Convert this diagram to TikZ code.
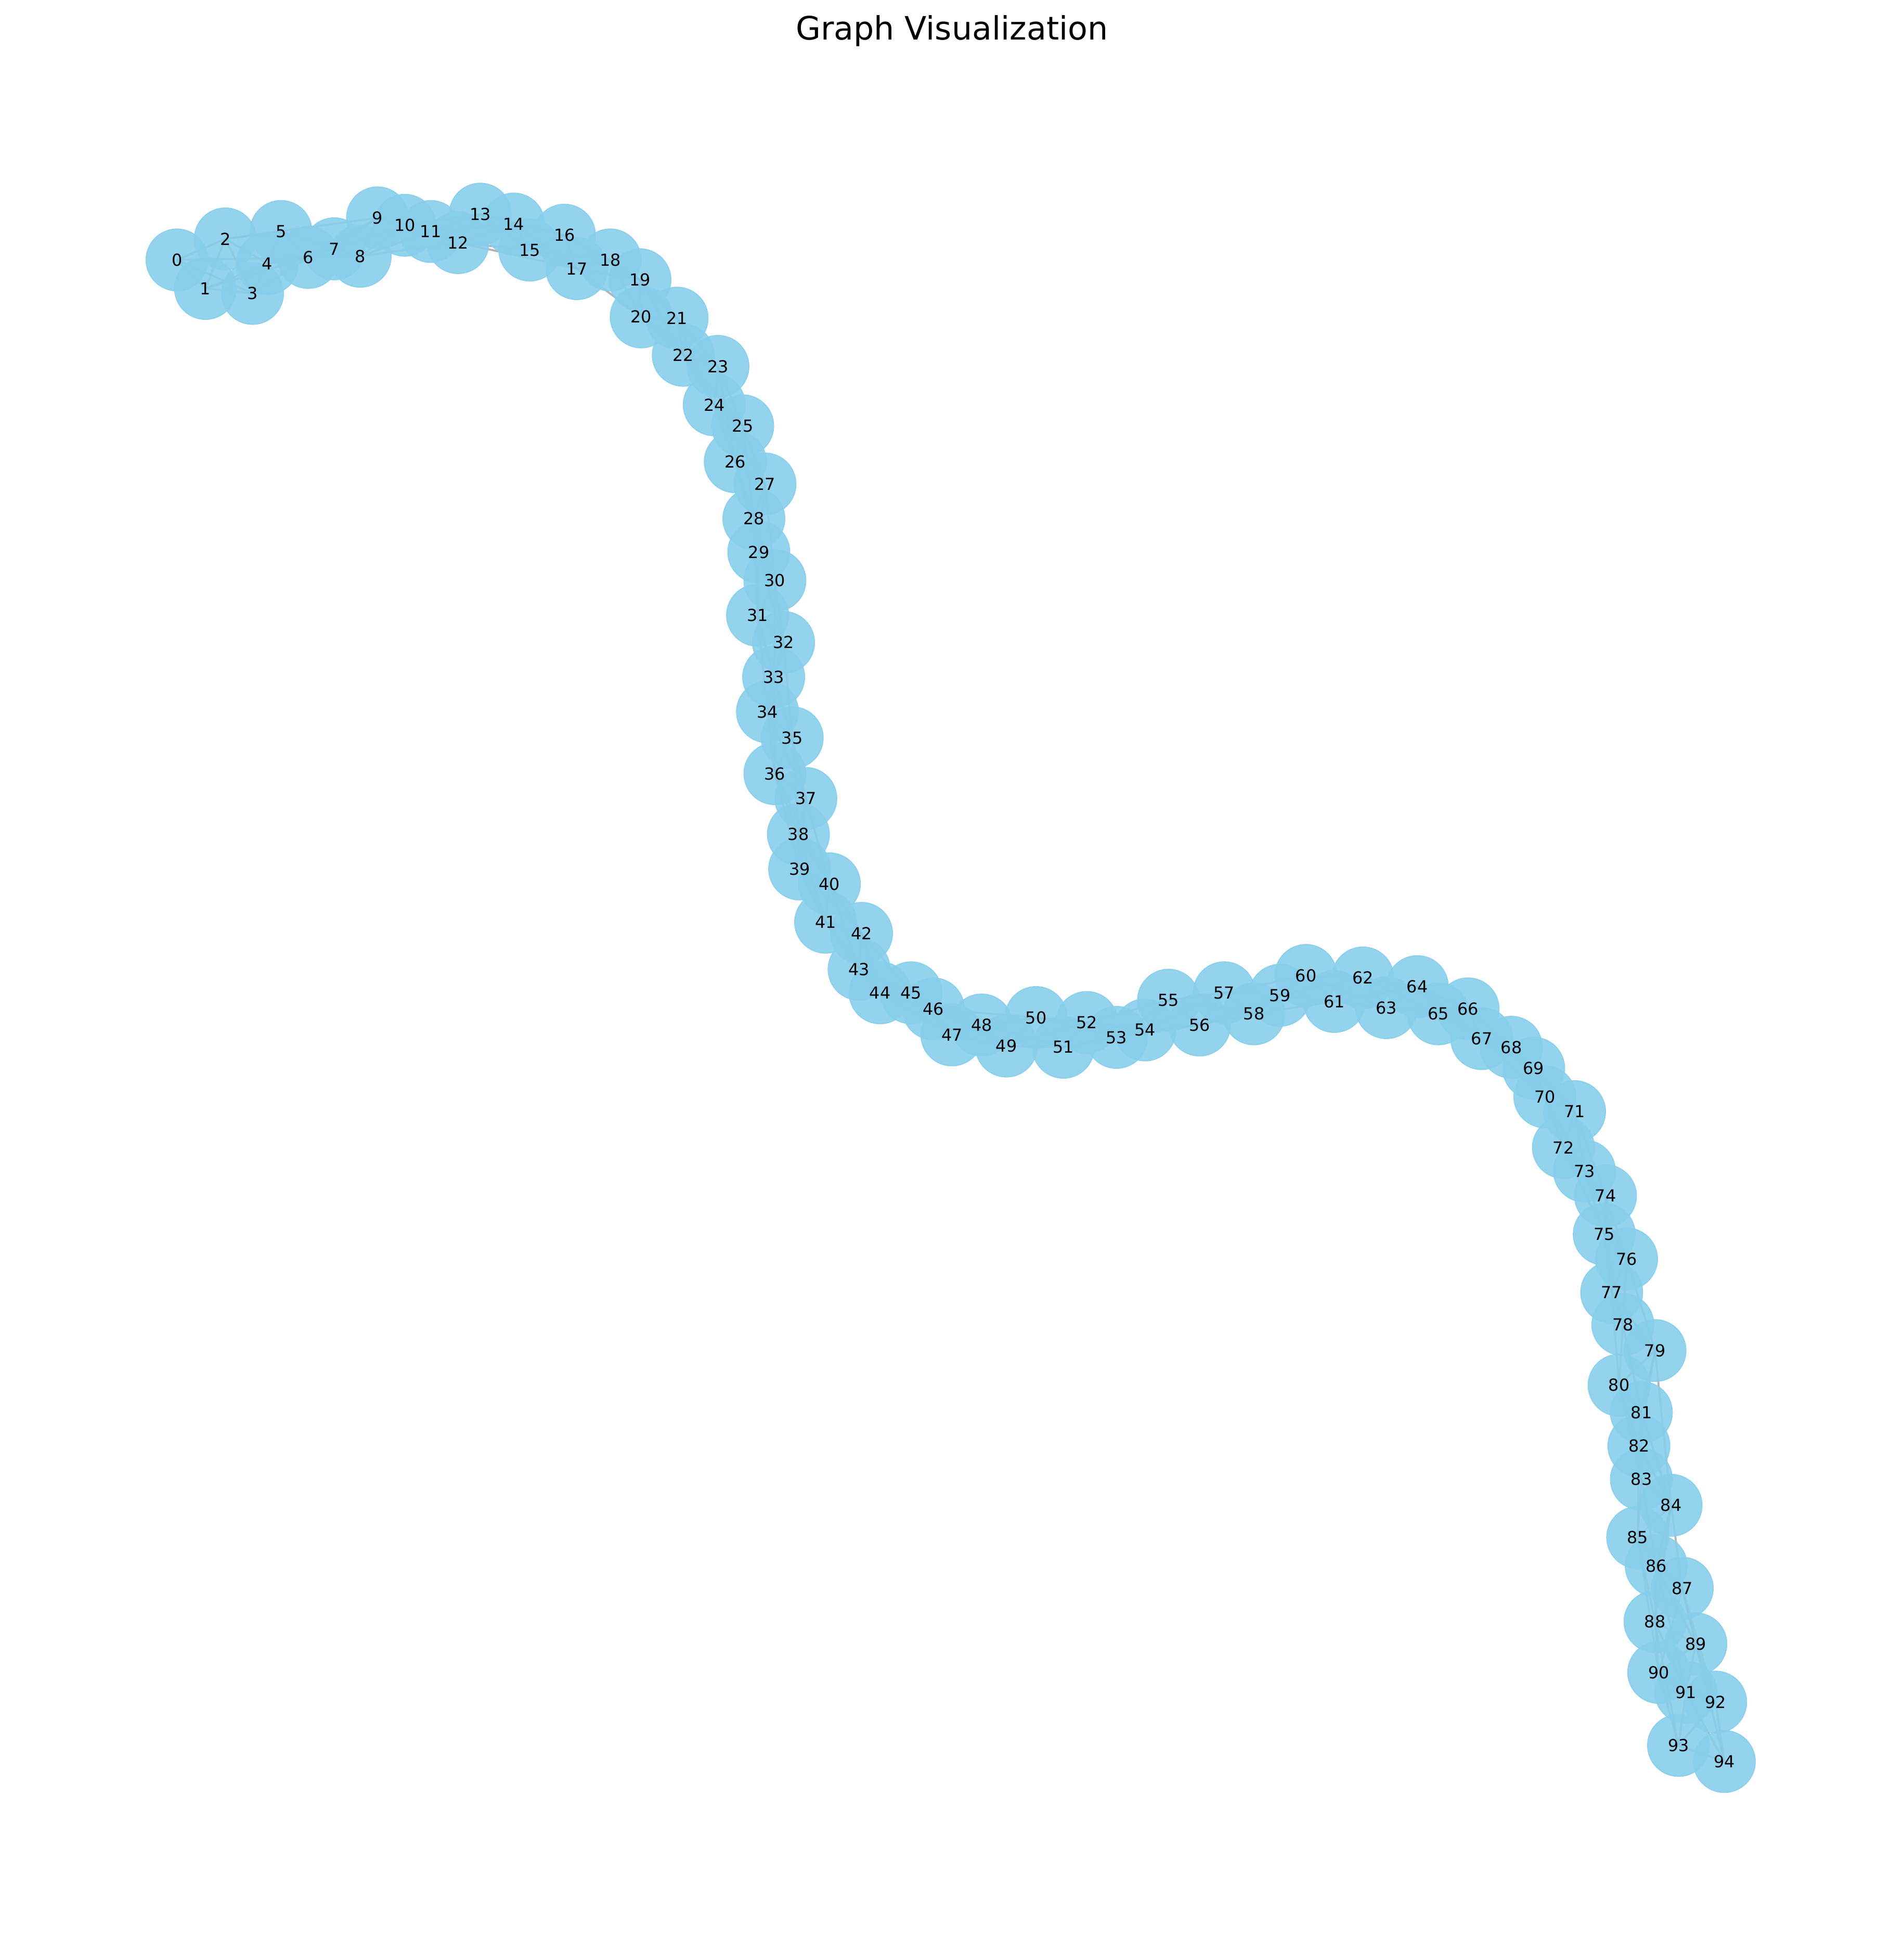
\documentclass[tikz,border=0pt]{standalone}
\usepackage{fontspec}
\setmainfont{DejaVu Sans}
\usepackage{tikz}
\usetikzlibrary{backgrounds}
\definecolor{skyBlue}{RGB}{135,206,235}
\definecolor{edgeGray}{RGB}{128,128,128}
\tikzset{
  graph node/.style={circle,fill=skyBlue,draw=skyBlue,fill opacity=0.9,draw opacity=0.9,line width=0.4pt,minimum size=25pt,inner sep=0pt},
  graph label/.style={inner sep=0pt,text=black,font=\fontsize{6.7}{8}\selectfont},
  graph edge/.style={draw=edgeGray,line width=0.8pt,opacity=0.6},
  graph title/.style={font=\fontsize{13}{15}\selectfont,anchor=base}
}
\begin{document}
\begin{tikzpicture}[x=0.5pt,y=-0.5pt]
  \useasboundingbox (0,0) rectangle (1538,1568);
  \node[graph title] (title) at (769,32) {Graph Visualization};
  % nodes
  \node[graph node] (n0) at (143,210) {};
  \node[graph node] (n1) at (166,233) {};
  \node[graph node] (n2) at (182,193) {};
  \node[graph node] (n3) at (204,237) {};
  \node[graph node] (n4) at (216,213) {};
  \node[graph node] (n5) at (227,187) {};
  \node[graph node] (n6) at (249,208) {};
  \node[graph node] (n7) at (270,201) {};
  \node[graph node] (n8) at (291,207) {};
  \node[graph node] (n9) at (305,176) {};
  \node[graph node] (n10) at (327,182) {};
  \node[graph node] (n11) at (348,187) {};
  \node[graph node] (n12) at (370,196) {};
  \node[graph node] (n13) at (388,173) {};
  \node[graph node] (n14) at (415,181) {};
  \node[graph node] (n15) at (428,202) {};
  \node[graph node] (n16) at (456,190) {};
  \node[graph node] (n17) at (466,217) {};
  \node[graph node] (n18) at (493,210) {};
  \node[graph node] (n19) at (517,226) {};
  \node[graph node] (n20) at (518,256) {};
  \node[graph node] (n21) at (547,257) {};
  \node[graph node] (n22) at (552,287) {};
  \node[graph node] (n23) at (580,296) {};
  \node[graph node] (n24) at (577,327) {};
  \node[graph node] (n25) at (600,344) {};
  \node[graph node] (n26) at (594,373) {};
  \node[graph node] (n27) at (618,391) {};
  \node[graph node] (n28) at (609,419) {};
  \node[graph node] (n29) at (613,446) {};
  \node[graph node] (n30) at (626,469) {};
  \node[graph node] (n31) at (612,497) {};
  \node[graph node] (n32) at (633,519) {};
  \node[graph node] (n33) at (625,547) {};
  \node[graph node] (n34) at (620,575) {};
  \node[graph node] (n35) at (640,596) {};
  \node[graph node] (n36) at (626,625) {};
  \node[graph node] (n37) at (651,645) {};
  \node[graph node] (n38) at (645,674) {};
  \node[graph node] (n39) at (646,702) {};
  \node[graph node] (n40) at (670,714) {};
  \node[graph node] (n41) at (667,745) {};
  \node[graph node] (n42) at (696,754) {};
  \node[graph node] (n43) at (694,783) {};
  \node[graph node] (n44) at (711,802) {};
  \node[graph node] (n45) at (736,802) {};
  \node[graph node] (n46) at (754,815) {};
  \node[graph node] (n47) at (769,836) {};
  \node[graph node] (n48) at (793,828) {};
  \node[graph node] (n49) at (813,845) {};
  \node[graph node] (n50) at (837,822) {};
  \node[graph node] (n51) at (859,846) {};
  \node[graph node] (n52) at (878,826) {};
  \node[graph node] (n53) at (902,838) {};
  \node[graph node] (n54) at (925,832) {};
  \node[graph node] (n55) at (944,808) {};
  \node[graph node] (n56) at (969,828) {};
  \node[graph node] (n57) at (989,802) {};
  \node[graph node] (n58) at (1013,819) {};
  \node[graph node] (n59) at (1034,804) {};
  \node[graph node] (n60) at (1055,788) {};
  \node[graph node] (n61) at (1078,809) {};
  \node[graph node] (n62) at (1101,790) {};
  \node[graph node] (n63) at (1120,814) {};
  \node[graph node] (n64) at (1145,797) {};
  \node[graph node] (n65) at (1162,819) {};
  \node[graph node] (n66) at (1186,815) {};
  \node[graph node] (n67) at (1197,839) {};
  \node[graph node] (n68) at (1221,846) {};
  \node[graph node] (n69) at (1239,863) {};
  \node[graph node] (n70) at (1248,886) {};
  \node[graph node] (n71) at (1272,898) {};
  \node[graph node] (n72) at (1263,927) {};
  \node[graph node] (n73) at (1280,946) {};
  \node[graph node] (n74) at (1297,966) {};
  \node[graph node] (n75) at (1296,997) {};
  \node[graph node] (n76) at (1314,1017) {};
  \node[graph node] (n77) at (1302,1044) {};
  \node[graph node] (n78) at (1311,1070) {};
  \node[graph node] (n79) at (1337,1091) {};
  \node[graph node] (n80) at (1308,1119) {};
  \node[graph node] (n81) at (1326,1141) {};
  \node[graph node] (n82) at (1324,1168) {};
  \node[graph node] (n83) at (1326,1195) {};
  \node[graph node] (n84) at (1350,1216) {};
  \node[graph node] (n85) at (1323,1242) {};
  \node[graph node] (n86) at (1338,1265) {};
  \node[graph node] (n87) at (1359,1283) {};
  \node[graph node] (n88) at (1337,1310) {};
  \node[graph node] (n89) at (1370,1328) {};
  \node[graph node] (n90) at (1340,1351) {};
  \node[graph node] (n91) at (1362,1367) {};
  \node[graph node] (n92) at (1386,1375) {};
  \node[graph node] (n93) at (1356,1410) {};
  \node[graph node] (n94) at (1393,1423) {};
  % labels on top of every disc
  \node[graph label] (t0) at (n0) {0};
  \node[graph label] (t1) at (n1) {1};
  \node[graph label] (t2) at (n2) {2};
  \node[graph label] (t3) at (n3) {3};
  \node[graph label] (t4) at (n4) {4};
  \node[graph label] (t5) at (n5) {5};
  \node[graph label] (t6) at (n6) {6};
  \node[graph label] (t7) at (n7) {7};
  \node[graph label] (t8) at (n8) {8};
  \node[graph label] (t9) at (n9) {9};
  \node[graph label] (t10) at (n10) {10};
  \node[graph label] (t11) at (n11) {11};
  \node[graph label] (t12) at (n12) {12};
  \node[graph label] (t13) at (n13) {13};
  \node[graph label] (t14) at (n14) {14};
  \node[graph label] (t15) at (n15) {15};
  \node[graph label] (t16) at (n16) {16};
  \node[graph label] (t17) at (n17) {17};
  \node[graph label] (t18) at (n18) {18};
  \node[graph label] (t19) at (n19) {19};
  \node[graph label] (t20) at (n20) {20};
  \node[graph label] (t21) at (n21) {21};
  \node[graph label] (t22) at (n22) {22};
  \node[graph label] (t23) at (n23) {23};
  \node[graph label] (t24) at (n24) {24};
  \node[graph label] (t25) at (n25) {25};
  \node[graph label] (t26) at (n26) {26};
  \node[graph label] (t27) at (n27) {27};
  \node[graph label] (t28) at (n28) {28};
  \node[graph label] (t29) at (n29) {29};
  \node[graph label] (t30) at (n30) {30};
  \node[graph label] (t31) at (n31) {31};
  \node[graph label] (t32) at (n32) {32};
  \node[graph label] (t33) at (n33) {33};
  \node[graph label] (t34) at (n34) {34};
  \node[graph label] (t35) at (n35) {35};
  \node[graph label] (t36) at (n36) {36};
  \node[graph label] (t37) at (n37) {37};
  \node[graph label] (t38) at (n38) {38};
  \node[graph label] (t39) at (n39) {39};
  \node[graph label] (t40) at (n40) {40};
  \node[graph label] (t41) at (n41) {41};
  \node[graph label] (t42) at (n42) {42};
  \node[graph label] (t43) at (n43) {43};
  \node[graph label] (t44) at (n44) {44};
  \node[graph label] (t45) at (n45) {45};
  \node[graph label] (t46) at (n46) {46};
  \node[graph label] (t47) at (n47) {47};
  \node[graph label] (t48) at (n48) {48};
  \node[graph label] (t49) at (n49) {49};
  \node[graph label] (t50) at (n50) {50};
  \node[graph label] (t51) at (n51) {51};
  \node[graph label] (t52) at (n52) {52};
  \node[graph label] (t53) at (n53) {53};
  \node[graph label] (t54) at (n54) {54};
  \node[graph label] (t55) at (n55) {55};
  \node[graph label] (t56) at (n56) {56};
  \node[graph label] (t57) at (n57) {57};
  \node[graph label] (t58) at (n58) {58};
  \node[graph label] (t59) at (n59) {59};
  \node[graph label] (t60) at (n60) {60};
  \node[graph label] (t61) at (n61) {61};
  \node[graph label] (t62) at (n62) {62};
  \node[graph label] (t63) at (n63) {63};
  \node[graph label] (t64) at (n64) {64};
  \node[graph label] (t65) at (n65) {65};
  \node[graph label] (t66) at (n66) {66};
  \node[graph label] (t67) at (n67) {67};
  \node[graph label] (t68) at (n68) {68};
  \node[graph label] (t69) at (n69) {69};
  \node[graph label] (t70) at (n70) {70};
  \node[graph label] (t71) at (n71) {71};
  \node[graph label] (t72) at (n72) {72};
  \node[graph label] (t73) at (n73) {73};
  \node[graph label] (t74) at (n74) {74};
  \node[graph label] (t75) at (n75) {75};
  \node[graph label] (t76) at (n76) {76};
  \node[graph label] (t77) at (n77) {77};
  \node[graph label] (t78) at (n78) {78};
  \node[graph label] (t79) at (n79) {79};
  \node[graph label] (t80) at (n80) {80};
  \node[graph label] (t81) at (n81) {81};
  \node[graph label] (t82) at (n82) {82};
  \node[graph label] (t83) at (n83) {83};
  \node[graph label] (t84) at (n84) {84};
  \node[graph label] (t85) at (n85) {85};
  \node[graph label] (t86) at (n86) {86};
  \node[graph label] (t87) at (n87) {87};
  \node[graph label] (t88) at (n88) {88};
  \node[graph label] (t89) at (n89) {89};
  \node[graph label] (t90) at (n90) {90};
  \node[graph label] (t91) at (n91) {91};
  \node[graph label] (t92) at (n92) {92};
  \node[graph label] (t93) at (n93) {93};
  \node[graph label] (t94) at (n94) {94};
  % edges
  \begin{scope}[on background layer]
    \draw[graph edge] (n0.center) -- (n1.center) -- (n2.center) -- (n3.center) -- (n4.center) -- (n5.center) -- (n6.center) -- (n7.center) -- (n8.center) -- (n9.center)
      -- (n10.center) -- (n11.center) -- (n12.center) -- (n13.center) -- (n14.center) -- (n15.center) -- (n16.center) -- (n17.center) -- (n18.center) -- (n19.center)
      -- (n20.center) -- (n21.center) -- (n22.center) -- (n23.center) -- (n24.center) -- (n25.center) -- (n26.center) -- (n27.center) -- (n28.center) -- (n29.center)
      -- (n30.center) -- (n31.center) -- (n32.center) -- (n33.center) -- (n34.center) -- (n35.center) -- (n36.center) -- (n37.center) -- (n38.center) -- (n39.center)
      -- (n40.center) -- (n41.center) -- (n42.center) -- (n43.center) -- (n44.center) -- (n45.center) -- (n46.center) -- (n47.center) -- (n48.center) -- (n49.center)
      -- (n50.center) -- (n51.center) -- (n52.center) -- (n53.center) -- (n54.center) -- (n55.center) -- (n56.center) -- (n57.center) -- (n58.center) -- (n59.center)
      -- (n60.center) -- (n61.center) -- (n62.center) -- (n63.center) -- (n64.center) -- (n65.center) -- (n66.center) -- (n67.center) -- (n68.center) -- (n69.center)
      -- (n70.center) -- (n71.center) -- (n72.center) -- (n73.center) -- (n74.center) -- (n75.center) -- (n76.center) -- (n77.center) -- (n78.center) -- (n79.center)
      -- (n80.center) -- (n81.center) -- (n82.center) -- (n83.center) -- (n84.center) -- (n85.center) -- (n86.center) -- (n87.center) -- (n88.center) -- (n89.center)
      -- (n90.center) -- (n91.center) -- (n92.center) -- (n93.center) -- (n94.center);
    \draw[graph edge] (n0.center) -- (n2.center) -- (n4.center) -- (n6.center) -- (n8.center) -- (n10.center) -- (n12.center) -- (n14.center) -- (n16.center) -- (n18.center)
      -- (n20.center) -- (n22.center) -- (n24.center) -- (n26.center) -- (n28.center) -- (n30.center) -- (n32.center) -- (n34.center) -- (n36.center) -- (n38.center)
      -- (n40.center) -- (n42.center) -- (n44.center) -- (n46.center) -- (n48.center) -- (n50.center) -- (n52.center) -- (n54.center) -- (n56.center) -- (n58.center)
      -- (n60.center) -- (n62.center) -- (n64.center) -- (n66.center) -- (n68.center) -- (n70.center) -- (n72.center) -- (n74.center) -- (n76.center) -- (n78.center)
      -- (n80.center) -- (n82.center) -- (n84.center) -- (n86.center) -- (n88.center) -- (n90.center) -- (n92.center) -- (n94.center);
    \draw[graph edge] (n1.center) -- (n3.center) -- (n5.center) -- (n7.center) -- (n9.center) -- (n11.center) -- (n13.center) -- (n15.center) -- (n17.center) -- (n19.center)
      -- (n21.center) -- (n23.center) -- (n25.center) -- (n27.center) -- (n29.center) -- (n31.center) -- (n33.center) -- (n35.center) -- (n37.center) -- (n39.center)
      -- (n41.center) -- (n43.center) -- (n45.center) -- (n47.center) -- (n49.center) -- (n51.center) -- (n53.center) -- (n55.center) -- (n57.center) -- (n59.center)
      -- (n61.center) -- (n63.center) -- (n65.center) -- (n67.center) -- (n69.center) -- (n71.center) -- (n73.center) -- (n75.center) -- (n77.center) -- (n79.center)
      -- (n81.center) -- (n83.center) -- (n85.center) -- (n87.center) -- (n89.center) -- (n91.center) -- (n93.center);
    \draw[graph edge] (n0.center) -- (n3.center) -- (n6.center) -- (n9.center) -- (n12.center) -- (n15.center) -- (n18.center) -- (n21.center) -- (n24.center) -- (n27.center)
      -- (n30.center) -- (n33.center) -- (n36.center) -- (n39.center) -- (n42.center) -- (n45.center) -- (n48.center) -- (n51.center) -- (n54.center) -- (n57.center)
      -- (n60.center) -- (n63.center) -- (n66.center) -- (n69.center) -- (n72.center) -- (n75.center) -- (n78.center) -- (n81.center) -- (n84.center) -- (n87.center)
      -- (n90.center) -- (n93.center);
    \draw[graph edge] (n1.center) -- (n4.center) -- (n7.center) -- (n10.center) -- (n13.center) -- (n16.center) -- (n19.center) -- (n22.center) -- (n25.center) -- (n28.center)
      -- (n31.center) -- (n34.center) -- (n37.center) -- (n40.center) -- (n43.center) -- (n46.center) -- (n49.center) -- (n52.center) -- (n55.center) -- (n58.center)
      -- (n61.center) -- (n64.center) -- (n67.center) -- (n70.center) -- (n73.center) -- (n76.center) -- (n79.center) -- (n82.center) -- (n85.center) -- (n88.center)
      -- (n91.center) -- (n94.center);
    \draw[graph edge] (n2.center) -- (n5.center) -- (n8.center) -- (n11.center) -- (n14.center) -- (n17.center) -- (n20.center) -- (n23.center) -- (n26.center) -- (n29.center)
      -- (n32.center) -- (n35.center) -- (n38.center) -- (n41.center) -- (n44.center) -- (n47.center) -- (n50.center) -- (n53.center) -- (n56.center) -- (n59.center)
      -- (n62.center) -- (n65.center) -- (n68.center) -- (n71.center) -- (n74.center) -- (n77.center) -- (n80.center) -- (n83.center) -- (n86.center) -- (n89.center)
      -- (n92.center);
    \draw[graph edge] (n0.center) -- (n6.center) (n1.center) -- (n6.center) (n2.center) -- (n9.center) (n8.center) -- (n12.center)
      (n12.center) -- (n17.center) (n36.center) -- (n40.center) (n38.center) -- (n42.center) (n46.center) -- (n50.center)
      (n79.center) -- (n84.center) (n84.center) -- (n88.center) (n85.center) -- (n90.center) (n86.center) -- (n91.center)
      (n87.center) -- (n92.center) (n88.center) -- (n93.center) (n87.center) -- (n94.center);
  \end{scope}
\end{tikzpicture}
\end{document}
